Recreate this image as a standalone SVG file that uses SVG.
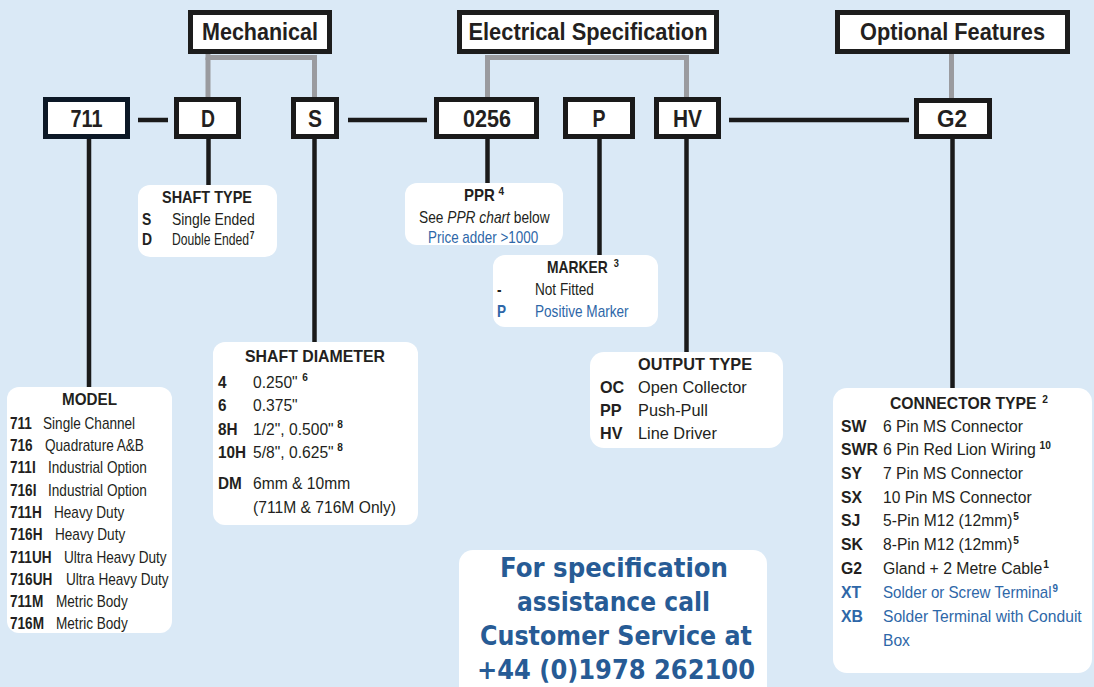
<svg xmlns="http://www.w3.org/2000/svg" width="1094" height="687" viewBox="0 0 1094 687">
<style>
text{font-family:"Liberation Sans",Arial,sans-serif;fill:#231f20}
.hd{font-size:24px;font-weight:bold;text-anchor:middle}
.cd{font-size:23px;font-weight:bold;text-anchor:middle}
.hbox{fill:#fff;stroke:#1d1d1d;stroke-width:5}
.cbox{fill:#fff;stroke:#1a1a1a;stroke-width:5}
.card{fill:#fff}
.ti{font-size:16.5px;font-weight:bold;text-anchor:middle}
.b{font-weight:bold}
.s16{font-size:16px}
.s165{font-size:16.5px}
.s17{font-size:17px}
.sup{font-size:11px;font-weight:bold}
.blue{fill:#2e67a8}
.ph{font-family:"DejaVu Sans",Verdana,sans-serif;font-size:26px;font-weight:bold;fill:#275b95;text-anchor:middle}
.gray{stroke:#9a9b9f;stroke-width:5;fill:none}
.blk{stroke:#1a1a1a;stroke-width:4.5;fill:none}
</style>
<rect width="1094" height="687" fill="#dae9f6"/>

<g id="connectors">
<polyline class="gray" points="208,54 208,57.5 314.5,57.5 314.5,97"/>
<line class="gray" x1="208" y1="57.5" x2="208" y2="97"/>
<polyline class="gray" points="487.5,97 487.5,57.5 686.5,57.5 686.5,97"/>
<line class="gray" x1="951.5" y1="54" x2="951.5" y2="98"/>
<line class="blk" x1="138" y1="120" x2="168" y2="120"/>
<line class="blk" x1="348" y1="120" x2="427" y2="120"/>
<line class="blk" x1="729" y1="120" x2="909" y2="120"/>
<line class="blk" x1="89" y1="139" x2="89" y2="388"/>
<line class="blk" x1="208.5" y1="139" x2="208.5" y2="186"/>
<line class="blk" x1="314.5" y1="139" x2="314.5" y2="343"/>
<line class="blk" x1="487.5" y1="139" x2="487.5" y2="184"/>
<line class="blk" x1="599.5" y1="139" x2="599.5" y2="256"/>
<line class="blk" x1="686.5" y1="139" x2="686.5" y2="353"/>
<line class="blk" x1="952.5" y1="139" x2="952.5" y2="389"/>
</g>

<g id="hdr-mechanical">
<rect class="hbox" x="190.5" y="12.5" width="139" height="39"/>
<text class="hd" x="260" y="40" textLength="116" lengthAdjust="spacingAndGlyphs">Mechanical</text>
</g>
<g id="hdr-electrical">
<rect class="hbox" x="459.5" y="12.5" width="257" height="39"/>
<text class="hd" x="588" y="40" textLength="239" lengthAdjust="spacingAndGlyphs">Electrical Specification</text>
</g>
<g id="hdr-optional">
<rect class="hbox" x="837.5" y="12.5" width="230" height="39"/>
<text class="hd" x="952.5" y="40" textLength="185" lengthAdjust="spacingAndGlyphs">Optional Features</text>
</g>

<g id="code-711">
<rect class="cbox" x="45.5" y="99.5" width="82" height="37" style="stroke:#0c1826"/>
<text class="cd" x="86.5" y="127" textLength="32" lengthAdjust="spacingAndGlyphs">711</text>
</g>
<g id="code-D">
<rect class="cbox" x="176.5" y="99.5" width="62" height="37"/>
<text class="cd" x="208" y="127" textLength="14" lengthAdjust="spacingAndGlyphs">D</text>
</g>
<g id="code-S">
<rect class="cbox" x="293.5" y="99.5" width="43" height="37"/>
<text class="cd" x="315" y="127" textLength="14" lengthAdjust="spacingAndGlyphs">S</text>
</g>
<g id="code-0256">
<rect class="cbox" x="436.5" y="99.5" width="100" height="37"/>
<text class="cd" x="487" y="127" textLength="48" lengthAdjust="spacingAndGlyphs">0256</text>
</g>
<g id="code-P">
<rect class="cbox" x="565.5" y="99.5" width="67" height="37"/>
<text class="cd" x="599" y="127" textLength="13" lengthAdjust="spacingAndGlyphs">P</text>
</g>
<g id="code-HV">
<rect class="cbox" x="656.5" y="99.5" width="62" height="37"/>
<text class="cd" x="687.5" y="127" textLength="29" lengthAdjust="spacingAndGlyphs">HV</text>
</g>
<g id="code-G2">
<rect class="cbox" x="916.5" y="100.5" width="73" height="36"/>
<text class="cd" x="952" y="127" textLength="30" lengthAdjust="spacingAndGlyphs">G2</text>
</g>

<g id="box-model">
<rect class="card" x="7" y="387" width="165" height="246" rx="12"/>
<text class="ti" x="89.5" y="405" textLength="55" lengthAdjust="spacingAndGlyphs">MODEL</text>
<g class="s16">
<text class="b" transform="matrix(.85 0 0 1 10 428.5)">711</text><text transform="matrix(.85 0 0 1 43 428.5)">Single Channel</text>
<text class="b" transform="matrix(.85 0 0 1 10 451)">716</text><text transform="matrix(.85 0 0 1 45 451)">Quadrature A&amp;B</text>
<text class="b" transform="matrix(.85 0 0 1 10 473.3)">711I</text><text transform="matrix(.85 0 0 1 48 473.3)">Industrial Option</text>
<text class="b" transform="matrix(.85 0 0 1 10 495.5)">716I</text><text transform="matrix(.85 0 0 1 48 495.5)">Industrial Option</text>
<text class="b" transform="matrix(.85 0 0 1 10 517.8)">711H</text><text transform="matrix(.85 0 0 1 54 517.8)">Heavy Duty</text>
<text class="b" transform="matrix(.85 0 0 1 10 540)">716H</text><text transform="matrix(.85 0 0 1 55 540)">Heavy Duty</text>
<text class="b" transform="matrix(.85 0 0 1 10 562.5)">711UH</text><text transform="matrix(.85 0 0 1 64 562.5)">Ultra Heavy Duty</text>
<text class="b" transform="matrix(.85 0 0 1 10 585)">716UH</text><text transform="matrix(.85 0 0 1 66 585)">Ultra Heavy Duty</text>
<text class="b" transform="matrix(.85 0 0 1 10 607)">711M</text><text transform="matrix(.85 0 0 1 56 607)">Metric Body</text>
<text class="b" transform="matrix(.85 0 0 1 10 629)">716M</text><text transform="matrix(.85 0 0 1 56 629)">Metric Body</text>
</g>
</g>

<g id="box-shaft-type">
<rect class="card" x="138" y="185" width="139" height="72" rx="12"/>
<text class="ti" x="207" y="203" textLength="90" lengthAdjust="spacingAndGlyphs">SHAFT TYPE</text>
<g class="s16">
<text class="b" transform="matrix(.87 0 0 1 142 225)">S</text><text transform="matrix(.87 0 0 1 172 225)">Single Ended</text>
<text class="b" transform="matrix(.87 0 0 1 142 245)">D</text><text transform="matrix(.76 0 0 1 172 245)">Double Ended<tspan class="sup" dx="1" dy="-6">7</tspan></text>
</g>
</g>

<g id="box-shaft-diameter">
<rect class="card" x="213" y="342" width="205" height="183" rx="12"/>
<text class="ti" x="315" y="362" textLength="140" lengthAdjust="spacingAndGlyphs">SHAFT DIAMETER</text>
<g class="s17">
<text class="b" transform="matrix(.9 0 0 1 218 388)">4</text><text transform="matrix(.92 0 0 1 253 388)">0.250"<tspan class="sup" dx="5" dy="-7">6</tspan></text>
<text class="b" transform="matrix(.9 0 0 1 218 411)">6</text><text transform="matrix(.92 0 0 1 253 411)">0.375"</text>
<text class="b" transform="matrix(.9 0 0 1 218 435)">8H</text><text transform="matrix(.92 0 0 1 253 435)">1/2", 0.500"<tspan class="sup" dx="4" dy="-7">8</tspan></text>
<text class="b" transform="matrix(.9 0 0 1 218 458)">10H</text><text transform="matrix(.92 0 0 1 253 458)">5/8", 0.625"<tspan class="sup" dx="4" dy="-7">8</tspan></text>
<text class="b" transform="matrix(.9 0 0 1 218 489)">DM</text><text transform="matrix(.92 0 0 1 253 489)">6mm &amp; 10mm</text>
<text transform="matrix(.92 0 0 1 253 513)">(711M &amp; 716M Only)</text>
</g>
</g>

<g id="box-ppr">
<rect class="card" x="405" y="183" width="158" height="62" rx="12"/>
<text class="b s165" transform="matrix(.91 0 0 1 464 201)">PPR<tspan class="sup" dx="4" dy="-6">4</tspan></text>
<text class="s16" transform="matrix(.86 0 0 1 419 223)">See <tspan font-style="italic">PPR chart</tspan> below</text>
<text class="s16 blue" transform="matrix(.84 0 0 1 428 243)">Price adder &gt;1000</text>
</g>

<g id="box-marker">
<rect class="card" x="493" y="255" width="165" height="72" rx="12"/>
<text class="b s165" transform="matrix(.84 0 0 1 547 273)">MARKER<tspan class="sup" dx="7" dy="-6">3</tspan></text>
<g class="s16">
<text class="b" transform="matrix(.85 0 0 1 497 295)">-</text><text transform="matrix(.85 0 0 1 535 295)">Not Fitted</text>
<text class="b blue" transform="matrix(.85 0 0 1 497 317)">P</text><text class="blue" transform="matrix(.85 0 0 1 535 317)">Positive Marker</text>
</g>
</g>

<g id="box-output-type">
<rect class="card" x="590" y="352" width="193" height="96" rx="14"/>
<text class="b" x="638" y="370" style="font-size:17px" textLength="114" lengthAdjust="spacingAndGlyphs">OUTPUT TYPE</text>
<g class="s17">
<text class="b" transform="matrix(.95 0 0 1 600 393)">OC</text><text transform="matrix(.96 0 0 1 638 393)">Open Collector</text>
<text class="b" transform="matrix(.95 0 0 1 600 416)">PP</text><text transform="matrix(.96 0 0 1 638 416)">Push-Pull</text>
<text class="b" transform="matrix(.95 0 0 1 600 439)">HV</text><text transform="matrix(.96 0 0 1 638 439)">Line Driver</text>
</g>
</g>

<g id="box-connector-type">
<rect class="card" x="833" y="388" width="259" height="285" rx="14"/>
<text class="b s17" transform="matrix(.926 0 0 1 890 409)">CONNECTOR TYPE<tspan class="sup" dx="6" dy="-6">2</tspan></text>
<g class="s17">
<text class="b" transform="matrix(.93 0 0 1 841 432)">SW</text><text transform="matrix(.92 0 0 1 883 432)">6 Pin MS Connector</text>
<text class="b" transform="matrix(.93 0 0 1 841 455)">SWR</text><text transform="matrix(.93 0 0 1 883 455)">6 Pin Red Lion Wiring<tspan class="sup" dx="4" dy="-6">10</tspan></text>
<text class="b" transform="matrix(.93 0 0 1 841 479)">SY</text><text transform="matrix(.92 0 0 1 883 479)">7 Pin MS Connector</text>
<text class="b" transform="matrix(.93 0 0 1 841 503)">SX</text><text transform="matrix(.92 0 0 1 883 503)">10 Pin MS Connector</text>
<text class="b" transform="matrix(.93 0 0 1 841 526)">SJ</text><text transform="matrix(.92 0 0 1 883 526)">5-Pin M12 (12mm)<tspan class="sup" dx="1" dy="-6">5</tspan></text>
<text class="b" transform="matrix(.93 0 0 1 841 550)">SK</text><text transform="matrix(.92 0 0 1 883 550)">8-Pin M12 (12mm)<tspan class="sup" dx="1" dy="-6">5</tspan></text>
<text class="b" transform="matrix(.93 0 0 1 841 574)">G2</text><text transform="matrix(.93 0 0 1 883 574)">Gland + 2 Metre Cable<tspan class="sup" dx="1" dy="-6">1</tspan></text>
<text class="b blue" transform="matrix(.93 0 0 1 841 598)">XT</text><text class="blue" transform="matrix(.89 0 0 1 883 598)">Solder or Screw Terminal<tspan class="sup" dx="1" dy="-6">9</tspan></text>
<text class="b blue" transform="matrix(.93 0 0 1 841 622)">XB</text><text class="blue" transform="matrix(.92 0 0 1 883 622)">Solder Terminal with Conduit</text>
<text class="blue" transform="matrix(.92 0 0 1 883 646)">Box</text>
</g>
</g>

<g id="box-contact">
<rect class="card" x="459" y="550" width="308" height="150" rx="14"/>
<text class="ph" x="614" y="577" textLength="228" lengthAdjust="spacingAndGlyphs">For specification</text>
<text class="ph" x="613.5" y="611" textLength="193" lengthAdjust="spacingAndGlyphs">assistance call</text>
<text class="ph" x="616" y="645" textLength="272" lengthAdjust="spacingAndGlyphs">Customer Service at</text>
<text class="ph" x="616" y="679" textLength="278" lengthAdjust="spacingAndGlyphs">+44 (0)1978 262100</text>
</g>
</svg>
